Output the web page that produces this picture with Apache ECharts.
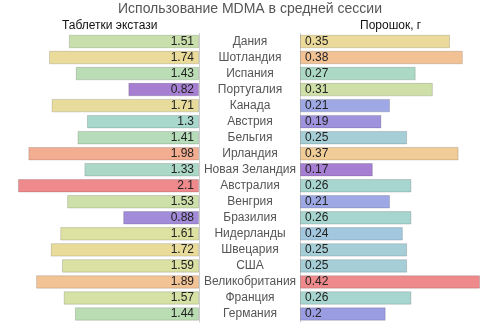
<!DOCTYPE html>
<html><head><meta charset="utf-8">
<script src="https://cdn.jsdelivr.net/npm/echarts@6/dist/echarts.min.js"></script>
<style>html,body{margin:0;padding:0;background:#fff}#c{width:500px;height:326px}</style>
</head><body><div id="c"></div>
<script>
const countries = ['Дания','Шотландия','Испания','Португалия','Канада','Австрия','Бельгия','Ирландия','Новая Зеландия','Австралия','Венгрия','Бразилия','Нидерланды','Швецария','США','Великобритания','Франция','Германия'];
const pills = [1.51,1.74,1.43,0.82,1.71,1.3,1.41,1.98,1.33,2.1,1.53,0.88,1.61,1.72,1.59,1.89,1.57,1.44];
const powder = [0.35,0.38,0.27,0.31,0.21,0.19,0.25,0.37,0.17,0.26,0.21,0.26,0.24,0.25,0.25,0.42,0.26,0.2];
const titleText = 'Использование MDMA в средней сессии';
const leftTitle = 'Таблетки экстази';
const rightTitle = 'Порошок, г';

const palette = ['#a67fd2','#9b9ee3','#a3c2e6','#a8d8cc','#bedeb0','#e0e2a0','#eed898','#f4b993','#ee8a8c'];
const font = 'Liberation Sans, Arial, sans-serif';
const chart = echarts.init(document.getElementById('c'));
chart.setOption({
  animation:false,
  textStyle:{fontFamily:font},
  title:[
    {text:titleText,left:'center',top:2,padding:0,textStyle:{fontSize:14,fontWeight:'normal',color:'#555',fontFamily:font}},
    {text:leftTitle,left:62,top:20,padding:0,textStyle:{fontSize:12,fontWeight:'normal',color:'#111',fontFamily:font}},
    {text:rightTitle,left:360,top:20,padding:0,textStyle:{fontSize:12,fontWeight:'normal',color:'#111',fontFamily:font}}
  ],
  visualMap:[
    {show:false,seriesIndex:0,min:Math.min(...pills),max:Math.max(...pills),dimension:0,inRange:{color:palette}},
    {show:false,seriesIndex:1,min:Math.min(...powder),max:Math.max(...powder),dimension:0,inRange:{color:palette}}
  ],
  grid:[
    {left:18,right:301,top:33.5,bottom:4},
    {left:300,right:20,top:33.5,bottom:4}
  ],
  xAxis:[
    {gridIndex:0,type:'value',min:0,max:2.1,inverse:true,show:false},
    {gridIndex:1,type:'value',min:0,max:0.42,show:false}
  ],
  yAxis:[
    {gridIndex:0,type:'category',data:countries,inverse:true,position:'right',
     axisLine:{show:true,lineStyle:{color:'#ccc'}},axisTick:{show:false},
     axisLabel:{align:'center',margin:51,fontSize:12,color:'#555',fontFamily:font}},
    {gridIndex:1,type:'category',data:countries,inverse:true,position:'left',
     axisLine:{show:true,lineStyle:{color:'#ccc'}},axisTick:{show:false},axisLabel:{show:false}}
  ],
  series:[
    {type:'bar',xAxisIndex:0,yAxisIndex:0,data:pills,barCategoryGap:'16%',
     itemStyle:{borderColor:'rgba(0,0,0,0.15)',borderWidth:1},
     label:{show:true,position:'insideRight',distance:5,fontSize:12,color:'#222',fontFamily:font}},
    {type:'bar',xAxisIndex:1,yAxisIndex:1,data:powder,barCategoryGap:'16%',
     itemStyle:{borderColor:'rgba(0,0,0,0.15)',borderWidth:1},
     label:{show:true,position:'insideLeft',distance:5,fontSize:12,color:'#222',fontFamily:font}}
  ]
});
</script></body></html>
